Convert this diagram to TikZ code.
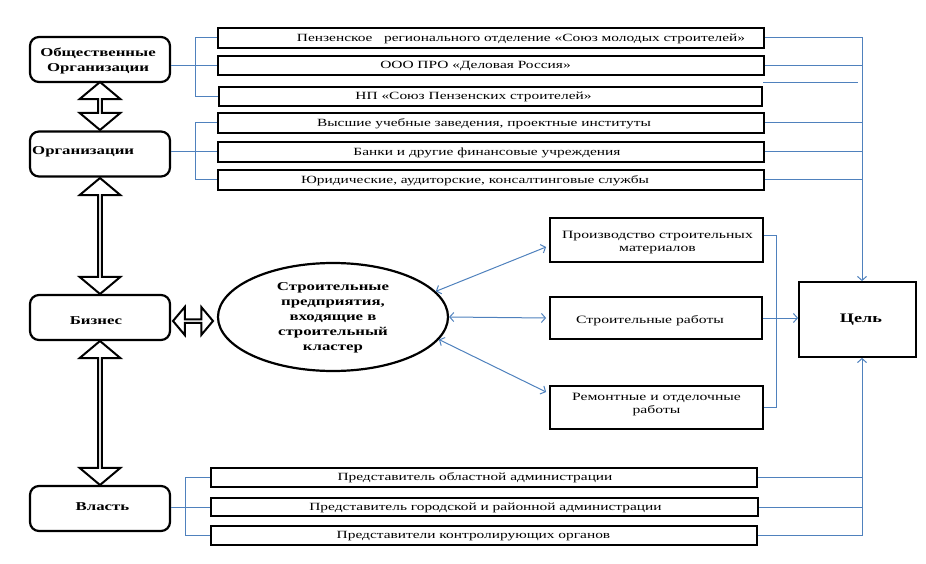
\documentclass[tikz,border=0pt]{standalone}
\usepackage{fontspec}
\setmainfont{Liberation Serif}[FakeStretch=1.4]
\newfontfamily\wideb{Liberation Serif}[FakeStretch=1.4]
\usetikzlibrary{shapes.arrows,shapes.geometric,arrows.meta,calc}
\definecolor{cblue}{RGB}{79,129,189}
\begin{document}
\begin{tikzpicture}[x=1pt,y=-1pt,
  lbox/.style={draw, line width=2.2pt, rounded corners=9pt, minimum width=140pt, minimum height=45pt, inner sep=0pt},
  ltxt/.style={font=\wideb\bfseries\fontsize{12}{15}\selectfont, align=center, inner sep=0pt},
  tbox/.style={draw, line width=1.8pt, inner sep=0pt},
  txt/.style={font=\fontsize{11}{12}\selectfont, inner sep=0pt},
  mtxt/.style={font=\fontsize{11.2}{13}\selectfont, inner sep=0pt, align=center},
  bl/.style={draw=cblue, line width=1pt},
  ar/.style={-{Straight Barb[length=4pt,width=9pt]}},
  dar/.style={{Straight Barb[length=4pt,width=9pt]}-{Straight Barb[length=4pt,width=9pt]}},
  hollow/.style={draw, line width=2pt, double arrow, double arrow tip angle=100, inner sep=0pt}
]
\useasboundingbox (0,0) rectangle (926,564);

% left rounded boxes
\node[lbox] (ob) at (100,59.5) {};
\node[ltxt] (obt) at (98,60.5) {Общественные\\ Организации};
\node[lbox] (org) at (100,154) {};
\node[ltxt, anchor=west] (orgt) at (32,152) {Организации};
\node[lbox] (biz) at (100,317.5) {};
\node[ltxt] (bizt) at (96,321) {Бизнес};
\node[lbox] (vl) at (100,508.5) {};
\node[ltxt] (vlt) at (102.5,507) {Власть};

% hollow double arrows
\node[hollow, minimum height=48pt, minimum width=41pt, double arrow head extend=10pt, rotate=90] (a1) at (100,106) {};
\node[hollow, minimum height=116pt, minimum width=41pt, double arrow head extend=10pt, rotate=90] (a2) at (100,236) {};
\node[hollow, minimum height=144pt, minimum width=41pt, double arrow head extend=10pt, rotate=90] (a3) at (100,413) {};
\node[hollow, minimum height=40pt, minimum width=28pt, double arrow head extend=7pt] (a4) at (193,321) {};

% ellipse
\node[draw, ellipse, line width=2.2pt, minimum width=230pt, minimum height=108pt, inner sep=0pt] (ell) at (333,317) {};
\node[ltxt] (ellt) at (333,318) {Строительные\\предприятия,\\входящие в\\строительный\\кластер};

% top boxes
\node[tbox, minimum width=546pt, minimum height=20pt] (b1) at (491,38) {};
\node[tbox, minimum width=546pt, minimum height=19pt] (b2) at (491,65.5) {};
\node[tbox, minimum width=543pt, minimum height=19pt] (b3) at (490.5,96.5) {};
\node[tbox, minimum width=546pt, minimum height=20pt] (b4) at (491,123) {};
\node[tbox, minimum width=546pt, minimum height=20pt] (b5) at (491,152) {};
\node[tbox, minimum width=546pt, minimum height=20pt] (b6) at (491,180) {};
\node[txt] (t1) at (521,38.5) {Пензенское \ \ регионального отделение «Союз молодых строителей»};
\node[txt] (t2) at (475.5,66) {ООО ПРО «Деловая Россия»};
\node[txt] (t3) at (473.5,97) {НП «Союз Пензенских строителей»};
\node[txt] (t4) at (484,123.5) {Высшие учебные заведения, проектные институты};
\node[txt] (t5) at (487,152.5) {Банки и другие финансовые учреждения};
\node[txt] (t6) at (475,180.5) {Юридические, аудиторские, консалтинговые службы};

% middle boxes
\node[tbox, minimum width=213pt, minimum height=44pt] (prod) at (656.5,240) {};
\node[tbox, minimum width=212pt, minimum height=42pt] (str) at (656,318) {};
\node[tbox, minimum width=213pt, minimum height=43pt] (rem) at (656.5,407.5) {};
\node[mtxt] (prodt) at (657.5,242.5) {Производство строительных\\материалов};
\node[mtxt] (strt) at (650,320.5) {Строительные работы};
\node[mtxt] (remt) at (656.5,405) {Ремонтные и отделочные\\работы};

% goal
\node[tbox, minimum width=117pt, minimum height=75pt] (goal) at (857.5,319.5) {};
\node[ltxt, font=\wideb\bfseries\fontsize{13}{16}\selectfont] (goalt) at (861,320) {Цель};

% bottom boxes
\node[tbox, minimum width=546pt, minimum height=19pt] (v1) at (484,477.5) {};
\node[tbox, minimum width=547pt, minimum height=18pt] (v2) at (484.5,507) {};
\node[tbox, minimum width=546pt, minimum height=19pt] (v3) at (484,535.5) {};
\node[txt] (s1) at (475,478) {Представитель областной администрации};
\node[txt] (s2) at (485.5,507.5) {Представитель городской и районной администрации};
\node[txt] (s3) at (473.5,536) {Представители контролирующих органов};

% helper coordinates
\coordinate (rx) at (862,0);
\coordinate (lx1) at (195,0);
\coordinate (lx3) at (185,0);
\coordinate (mx) at (776,0);
\coordinate (s0a) at (763,83);
\coordinate (s0b) at (858,83);

% left blue connectors
\draw[bl] (ob.east |- b2.west) -- (b2.west);
\draw[bl] (b1.west) -- (lx1 |- b1.west) -- (lx1 |- b3.west) -- (b3.west);
\draw[bl] (org.east |- b5.west) -- (b5.west);
\draw[bl] (b4.west) -- (lx1 |- b4.west) -- (lx1 |- b6.west) -- (b6.west);
\draw[bl] (vl.east |- v2.west) -- (v2.west);
\draw[bl] (v1.west) -- (lx3 |- v1.west) -- (lx3 |- v3.west) -- (v3.west);

% right blue connectors (top)
\draw[bl, ar] (b1.east) -- (rx |- b1.east) -- (goal.north -| rx);
\draw[bl] (b2.east) -- (rx |- b2.east);
\draw[bl] (s0a) -- (s0b);
\draw[bl] (b4.east) -- (rx |- b4.east);
\draw[bl] (b5.east) -- (rx |- b5.east);
\draw[bl] (b6.east) -- (rx |- b6.east);

% right blue connectors (bottom)
\draw[bl, ar] (v3.east) -- (rx |- v3.east) -- (goal.south -| rx);
\draw[bl] (v1.east) -- (rx |- v1.east);
\draw[bl] (v2.east) -- (rx |- v2.east);

% middle bracket
\draw[bl] ($(prod.east)+(0,-5)$) -- ($(mx |- prod.east)+(0,-5)$) -- (mx |- rem.east) -- (rem.east);
\draw[bl, ar] (str.east) -- (goal.west |- str.east);

% ellipse arrows
\draw[bl, dar] (ell.14) -- ($(prod.west)+(-3,7)$);
\draw[bl, dar] (ell.east) -- ($(str.west)+(-3,0)$);
\draw[bl, dar] (ell.-12) -- ($(rem.west)+(-3,-15.5)$);
\end{tikzpicture}
\end{document}
